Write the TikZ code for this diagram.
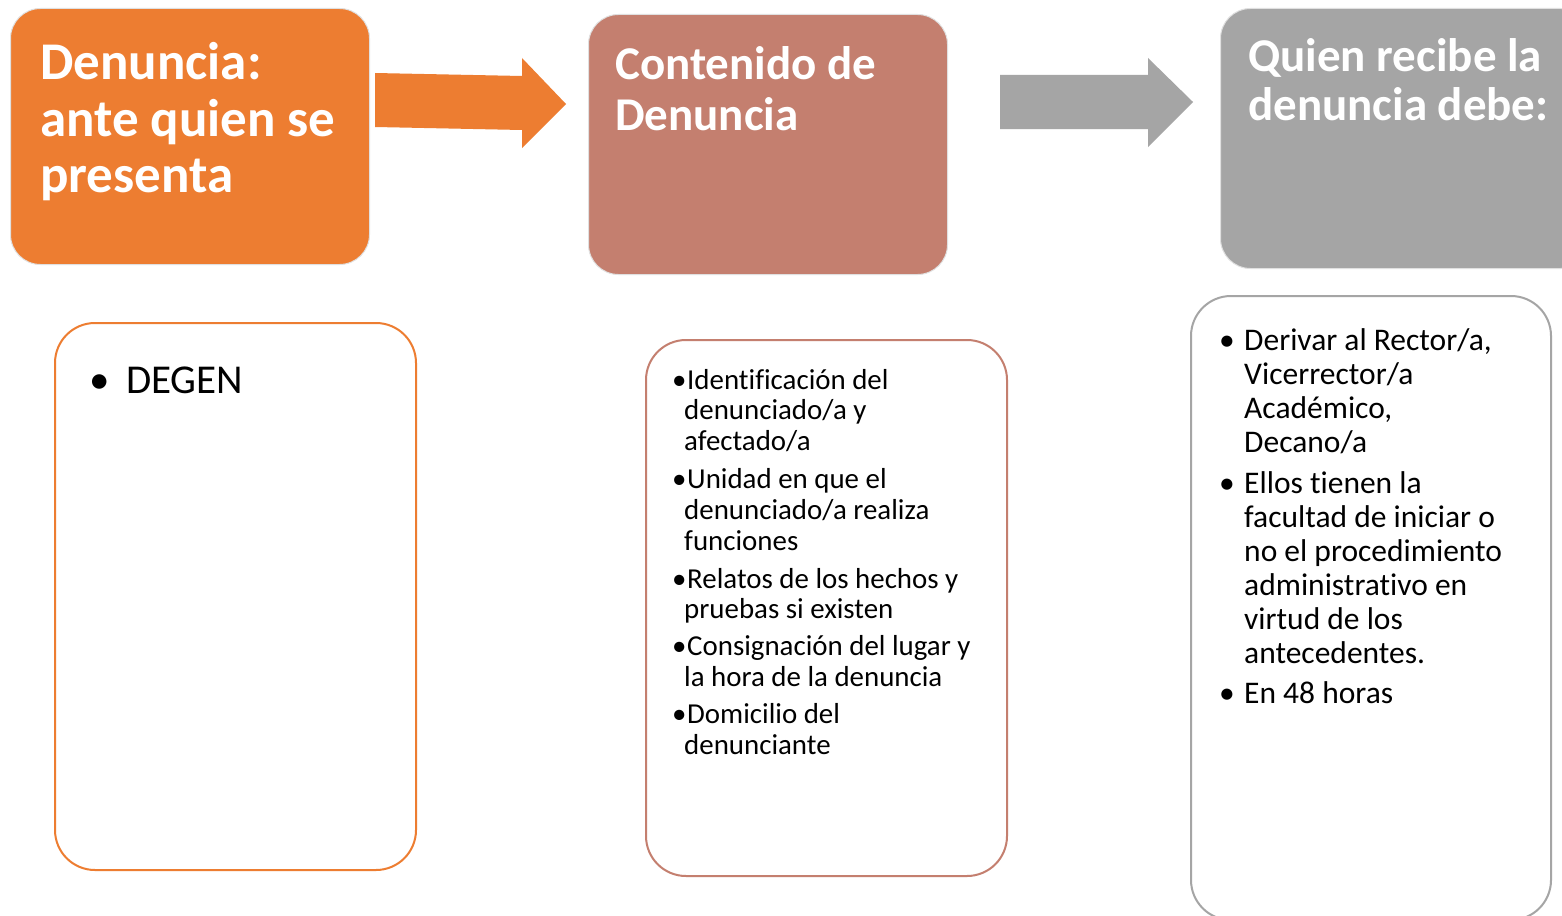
\documentclass[tikz,border=0pt]{standalone}
\usepackage{fontspec}
\setmainfont{Carlito}[Ligatures=CommonOff]
\definecolor{orangeA}{HTML}{ED7D31}
\definecolor{brownA}{HTML}{C47F6F}
\definecolor{grayA}{HTML}{A5A5A5}
\begin{document}
\begin{tikzpicture}[x=1pt,y=-1pt,
  topbox/.style={rectangle, rounded corners=30pt, draw=black!12, line width=1pt, inner sep=0pt, anchor=north west},
  lowbox/.style={rectangle, rounded corners=40pt, fill=white, line width=2pt, inner sep=0pt, anchor=north west},
  ttlA/.style={anchor=base west, inner sep=0pt, text=white, font=\fontsize{53}{53}\selectfont\bfseries},
  ttlB/.style={anchor=base west, inner sep=0pt, text=white, font=\fontsize{47}{47}\selectfont\bfseries},
  ttlC/.style={anchor=base west, inner sep=0pt, text=white, font=\fontsize{47}{47}\selectfont\bfseries},
  txtA/.style={anchor=base west, inner sep=0pt, font=\fontsize{41}{41}\selectfont},
  txtB/.style={anchor=base west, inner sep=0pt, font=\fontsize{28.9}{28.9}\selectfont},
  txtC/.style={anchor=base west, inner sep=0pt, font=\fontsize{31.5}{31.5}\selectfont},
]
\useasboundingbox (0,0) rectangle (1562,915);
\fill[white] (0,0) rectangle (1562,915);

% top boxes
\node[topbox, fill=orangeA, minimum width=359pt, minimum height=256pt] (b1) at (10,8) {};
\node[topbox, fill=brownA, minimum width=359pt, minimum height=260pt] (b2) at (588,14) {};
\node[topbox, fill=grayA, minimum width=370pt, minimum height=260pt] (b3) at (1220,8) {};

\node[ttlA] (t1a) at (40,80) {Denuncia:};
\node[ttlA] (t1b) at (40,136) {ante quien se};
\node[ttlA] (t1c) at (40,192) {presenta};
\node[ttlB] (t2a) at (615,80) {Contenido de};
\node[ttlB] (t2b) at (615,130) {Denuncia};
\node[ttlC] (t3a) at (1248,72) {Quien recibe la};
\node[ttlC] (t3b) at (1248,121) {denuncia debe:};

% block arrows
\fill[orangeA] (375,73) -- (522,76) -- (522,58) -- (566,104) -- (522,148) -- (522,130) -- (375,127) -- cycle;
\fill[grayA] (1000,75) -- (1148,75) -- (1148,58) -- (1193,102) -- (1148,147) -- (1148,129) -- (1000,129) -- cycle;

% lower boxes
\node[lowbox, draw=orangeA, minimum width=361pt, minimum height=547pt] (l1) at (54,322) {};
\node[lowbox, draw=brownA, minimum width=361pt, minimum height=536pt] (l2) at (645,339) {};
\node[lowbox, draw=grayA, minimum width=360pt, minimum height=624pt] (l3) at (1190,295) {};

% box 1 text
\node[txtA] (d0) at (89,393) {•};
\node[txtA] (d1) at (126,393) {DEGEN};

% box 2 text
\foreach \yy in {389,488,588,655,723}{
  \node[txtB] at (672,\yy) {•};
}
\node[txtB] (c1) at (687,389) {Identificación del};
\node[txtB] (c2) at (684,419) {denunciado/a y};
\node[txtB] (c3) at (684,450) {afectado/a};
\node[txtB] (c4) at (687,488) {Unidad en que el};
\node[txtB] (c5) at (684,519) {denunciado/a realiza};
\node[txtB] (c6) at (684,550) {funciones};
\node[txtB] (c7) at (687,588) {Relatos de los hechos y};
\node[txtB] (c8) at (684,618) {pruebas si existen};
\node[txtB] (c9) at (687,655) {Consignación del lugar y};
\node[txtB] (c10) at (684,686) {la hora de la denuncia};
\node[txtB] (c11) at (687,723) {Domicilio del};
\node[txtB] (c12) at (684,754) {denunciante};

% box 3 text
\foreach \yy in {350,493,703}{
  \node[txtC] at (1219,\yy) {•};
}
\node[txtC] (e1) at (1244,350) {Derivar al Rector/a,};
\node[txtC] (e2) at (1244,384) {Vicerrector/a};
\node[txtC] (e3) at (1244,418) {Académico,};
\node[txtC] (e4) at (1244,452) {Decano/a};
\node[txtC] (e5) at (1244,493) {Ellos tienen la};
\node[txtC] (e6) at (1244,527) {facultad de iniciar o};
\node[txtC] (e7) at (1244,561) {no el procedimiento};
\node[txtC] (e8) at (1244,595) {administrativo en};
\node[txtC] (e9) at (1244,629) {virtud de los};
\node[txtC] (e10) at (1244,663) {antecedentes.};
\node[txtC] (e11) at (1244,703) {En 48 horas};
\end{tikzpicture}
\end{document}
